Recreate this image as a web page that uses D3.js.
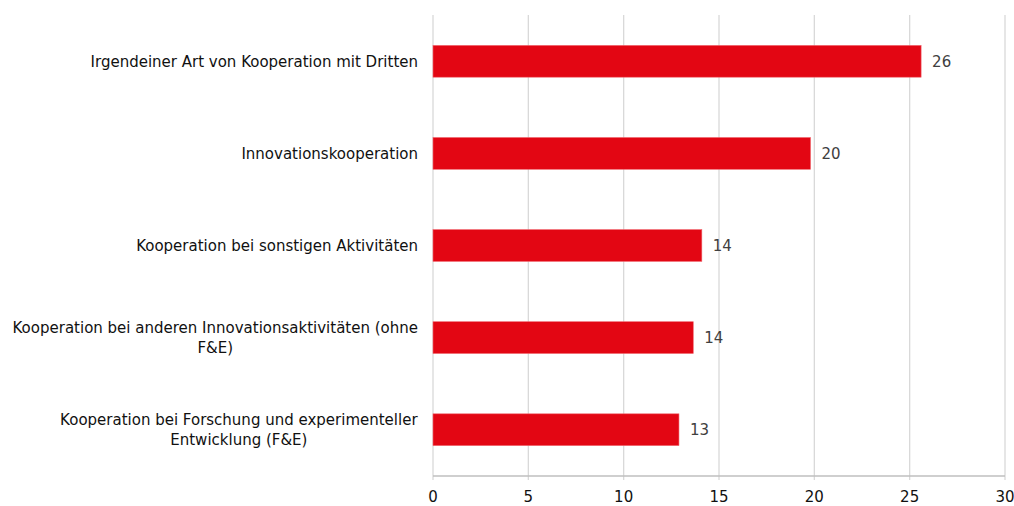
<!DOCTYPE html>
<html>
<head>
<meta charset="utf-8">
<script src="https://cdn.jsdelivr.net/npm/d3@7"></script>
<style>
  body { margin: 0; background: #fff; }
  text { font-family: "DejaVu Sans", sans-serif; }
</style>
</head>
<body>
<svg id="chart" width="1014" height="506"></svg>
<script>
// categories, top to bottom (already wrapped as in the original)
const categories = [
  ["Irgendeiner Art von Kooperation mit Dritten"],
  ["Innovationskooperation"],
  ["Kooperation bei sonstigen Aktivitäten"],
  ["Kooperation bei anderen Innovationsaktivitäten (ohne", "F&E)"],
  ["Kooperation bei Forschung und experimenteller", "Entwicklung (F&E)"]
];
const values = [25.6, 19.8, 14.1, 13.65, 12.9];
const xTicks = [0, 5, 10, 15, 20, 25, 30];

const svg = d3.select("#chart");
const margin = { top: 15, right: 9, bottom: 30, left: 433 };
const width = 1014 - margin.left - margin.right;
const height = 506 - margin.top - margin.bottom;

const g = svg.append("g")
  .attr("transform", `translate(${margin.left},${margin.top})`);

const x = d3.scaleLinear().domain([0, 30]).range([0, width]);
const y = d3.scaleBand()
  .domain(d3.range(categories.length))
  .range([0, height])
  .paddingInner(0.655)
  .paddingOuter(0.33);

// gridlines
g.selectAll(".grid")
  .data(xTicks)
  .enter().append("line")
  .attr("class", "grid")
  .attr("x1", d => x(d)).attr("x2", d => x(d))
  .attr("y1", 0).attr("y2", height + 4)
  .attr("stroke", "#d9d9d9")
  .attr("stroke-width", 1.3);

// bottom axis line
g.append("line")
  .attr("x1", 0).attr("x2", width)
  .attr("y1", height).attr("y2", height)
  .attr("stroke", "#bfbfbf")
  .attr("stroke-width", 1.3);

// tick labels
g.selectAll(".tick-label")
  .data(xTicks)
  .enter().append("text")
  .attr("x", d => x(d))
  .attr("y", height + 26)
  .attr("text-anchor", "middle")
  .attr("font-size", 15)
  .attr("fill", "#111")
  .text(d => d);

// bars
g.selectAll(".bar")
  .data(values)
  .enter().append("rect")
  .attr("class", "bar")
  .attr("x", 0)
  .attr("y", (d, i) => y(i))
  .attr("width", d => x(d))
  .attr("height", y.bandwidth())
  .attr("fill", "#e30613")
  .attr("stroke", "#f0646c")
  .attr("stroke-width", 0.6);

// value labels
g.selectAll(".val")
  .data(values)
  .enter().append("text")
  .attr("x", d => x(d) + 11)
  .attr("y", (d, i) => y(i) + y.bandwidth() / 2)
  .attr("dy", "0.35em")
  .attr("font-size", 15)
  .attr("fill", "#404040")
  .text(d => Math.round(d));

// category labels
const lineH = 20;
categories.forEach((lines, i) => {
  const t = g.append("text")
    .attr("font-size", 15)
    .attr("fill", "#111")
    .attr("text-anchor", "middle");
  lines.forEach((ln, j) => {
    t.append("tspan")
      .attr("x", 0)
      .attr("y", y(i) + y.bandwidth() / 2 + (j - (lines.length - 1) / 2) * lineH)
      .attr("dy", "0.35em")
      .text(ln);
  });
  // center block, right edge 15px left of axis
  const w = t.node().getBBox().width;
  t.attr("transform", `translate(${-15 - w / 2},0)`);
});
</script>
</body>
</html>
